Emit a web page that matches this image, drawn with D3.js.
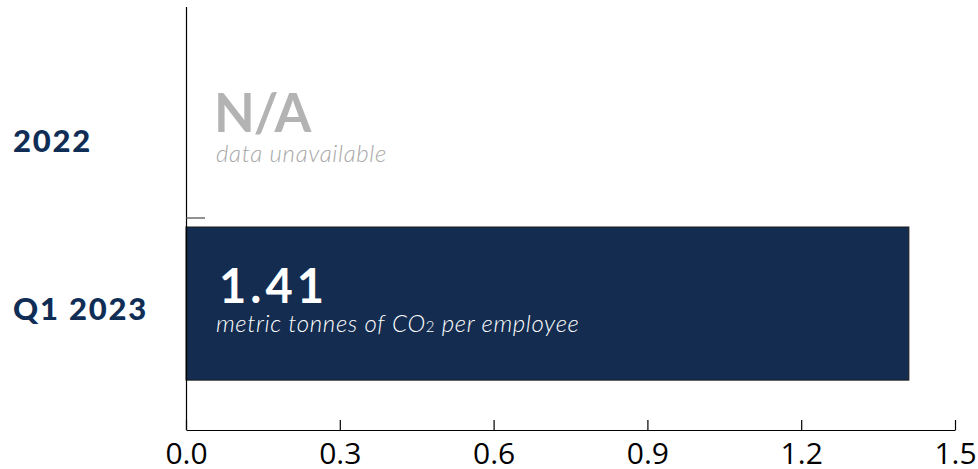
<!DOCTYPE html>
<html>
<head>
<meta charset="utf-8">
<script src="https://cdn.jsdelivr.net/npm/d3@7"></script>
<style>
  body { margin: 0; background: #fff; }
  svg { display: block; }
</style>
</head>
<body>
<svg width="978" height="469"></svg>
<script>
// chart data
var categories = ["2022", "Q1 2023"];
var values = [null, 1.41];
var bigLabels = ["N/A", "1.41"];
var smallLabels = ["data unavailable", "metric tonnes of CO|2| per employee"];
var xTicks = [0, 0.3, 0.6, 0.9, 1.2, 1.5];

var svg = d3.select("svg"),
    width = +svg.attr("width"),
    height = +svg.attr("height");

var navy = "#132c50";

var x = d3.scaleLinear()
    .domain([0, 1.5])
    .range([186, 955]);

var y = d3.scaleBand()
    .domain(categories)
    .range([7, 430]);

var bw = y.bandwidth();

// bar
svg.append("g")
    .selectAll("rect")
    .data(categories.filter(function (d, i) { return values[i] != null; }))
    .enter().append("rect")
    .attr("x", x(0))
    .attr("y", function (d) { return y(d) + 8.5; })
    .attr("width", function (d) { return x(values[categories.indexOf(d)]) - x(0); })
    .attr("height", bw * 0.724)
    .attr("fill", navy)
    .attr("stroke", "#1a1a1a")
    .attr("stroke-width", 1);

// y axis line + band separator tick
svg.append("line")
    .attr("x1", 186.5).attr("x2", 186.5)
    .attr("y1", 7).attr("y2", 430)
    .attr("stroke", "#000").attr("stroke-width", 1.2);

svg.append("line")
    .attr("x1", 186).attr("x2", 205)
    .attr("y1", y(categories[1]) - 0.5).attr("y2", y(categories[1]) - 0.5)
    .attr("stroke", "#555").attr("stroke-width", 1.3);

// category labels
var labelShift = [0.685, 0.48];
svg.append("g")
    .selectAll("text")
    .data(categories)
    .enter().append("text")
    .attr("x", 13)
    .attr("y", function (d, i) { return y(d) + bw * labelShift[i]; })
    .attr("font-family", "Lato, 'Open Sans', sans-serif")
    .attr("font-weight", 900)
    .attr("font-size", 31)
    .attr("letter-spacing", 1.8)
    .attr("fill", "#0f2d55")
    .text(function (d) { return d; });

// value labels inside / next to bars
var bigY = [0.59, 0.4];
var bigSize = [53, 47];
var bigX = [214, 219];
var bigColor = ["#b3b3b3", "#ffffff"];
var smallY = [0.735, 0.535];
var smallColor = ["#a8a8a8", "#ffffff"];

var vl = svg.append("g")
    .selectAll("g")
    .data(categories)
    .enter().append("g");

vl.append("text")
    .attr("x", function (d, i) { return bigX[i]; })
    .attr("y", function (d, i) { return y(d) + bw * bigY[i]; })
    .attr("font-family", "Lato, 'Open Sans', sans-serif")
    .attr("font-weight", 700)
    .attr("font-size", function (d, i) { return bigSize[i]; })
    .attr("letter-spacing", function (d, i) { return i ? 4 : -1; })
    .attr("fill", function (d, i) { return bigColor[i]; })
    .text(function (d, i) { return bigLabels[i]; });

vl.append("text")
    .attr("x", 216)
    .attr("y", function (d, i) { return y(d) + bw * smallY[i]; })
    .attr("font-family", "Lato, 'Open Sans', sans-serif")
    .attr("font-style", "italic")
    .attr("font-weight", 300)
    .attr("font-size", 24)
    .attr("letter-spacing", 0.65)
    .attr("fill", function (d, i) { return smallColor[i]; })
    .each(function (d, i) {
        var t = d3.select(this);
        smallLabels[i].split("|").forEach(function (part, k) {
            var span = t.append("tspan").text(part);
            if (k === 1) span.attr("font-size", 15).attr("font-style", "normal");
        });
    });

// x axis
var xAxis = d3.axisBottom(x)
    .tickValues(xTicks)
    .tickFormat(d3.format(".1f"))
    .tickSizeInner(-10)
    .tickSizeOuter(0)
    .tickPadding(13);

var gx = svg.append("g")
    .attr("transform", "translate(0,430)")
    .call(xAxis);

gx.select(".domain").attr("stroke", "#000").attr("stroke-width", 1.2);
gx.selectAll(".tick line").attr("stroke", "#000").attr("stroke-width", 1.2);
gx.selectAll(".tick text")
    .attr("font-family", "'Open Sans', sans-serif")
    .attr("font-size", 30)
    .attr("fill", "#000");
</script>
</body>
</html>
